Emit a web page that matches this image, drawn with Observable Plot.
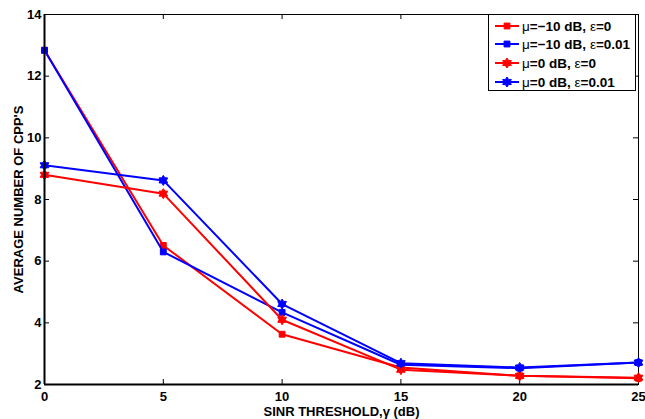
<!DOCTYPE html>
<html>
<head>
<meta charset="utf-8">
<script src="https://cdn.jsdelivr.net/npm/d3@7"></script>
<script src="https://cdn.jsdelivr.net/npm/@observablehq/plot@0.6"></script>
<style>
  html, body { margin: 0; padding: 0; background: #fff; }
  #wrap { position: relative; width: 645px; height: 419px; }
  #legend { position: absolute; left: 488px; top: 14px; width: 148px; height: 77px;
    border: 1px solid #000; background: #fff; box-sizing: border-box;
    font-family: "Liberation Sans", Arial, sans-serif; font-weight: bold; font-size: 13.5px; }
  .row { position: absolute; left: 0; height: 18px; display: flex; align-items: center; white-space: nowrap; }
  .row svg { margin-left: 5px; margin-right: 2px; }
</style>
</head>
<body>
<div id="wrap"><div id="chart"></div><div id="legend"></div></div>
<script>
const xValues = [0, 5, 10, 15, 20, 25];
const seriesNames = ["μ=−10 dB, ε=0", "μ=−10 dB, ε=0.01", "μ=0 dB, ε=0", "μ=0 dB, ε=0.01"];
const seriesColors = ["#ff0000", "#0000ff", "#ff0000", "#0000ff"];
const seriesMarkers = ["square", "square", "hexagram", "hexagram"];
const valsA = [12.84, 6.51, 3.63, 2.55, 2.28, 2.20];
const valsB = [12.84, 6.30, 4.34, 2.64, 2.53, 2.71];
const valsC = [8.80, 8.19, 4.10, 2.48, 2.28, 2.22];
const valsD = [9.11, 8.62, 4.61, 2.69, 2.55, 2.71];
const xTicks = [0, 5, 10, 15, 20, 25];
const yTicks = [2, 4, 6, 8, 10, 12, 14];
const xLabel = "SINR THRESHOLD,γ (dB)";
const yLabel = "AVERAGE NUMBER OF CPP'S";

const allVals = [valsA, valsB, valsC, valsD];
const data = [];
allVals.forEach((vals, s) => vals.forEach((v, i) => data.push({x: xValues[i], y: v, s})));

const hexagram = {
  draw(context, size) {
    const r = Math.sqrt(size / Math.PI) * 1.25;
    const ri = r / Math.sqrt(3) * 1.05;
    for (let k = 0; k < 12; k++) {
      const a = -Math.PI / 2 + k * Math.PI / 6;
      const rr = k % 2 === 0 ? r : ri;
      const px = rr * Math.cos(a), py = rr * Math.sin(a);
      if (k === 0) context.moveTo(px, py); else context.lineTo(px, py);
    }
    context.closePath();
  }
};
const symFor = m => m === "square" ? d3.symbolSquare : hexagram;

const W = 645, H = 419;
const mL = 44, mR = 7, mT = 14, mB = 35;
const innerH = H - mT - mB, innerW = W - mL - mR;
const font = "Liberation Sans, Arial, sans-serif";

const marks = [];
marks.push(Plot.frame({stroke: "#000", strokeWidth: 1}));
// inward ticks
marks.push(Plot.tickX(xTicks, {x: d => d, insetTop: innerH - 5, stroke: "#000", strokeWidth: 1}));
marks.push(Plot.tickX(xTicks, {x: d => d, insetBottom: innerH - 5, stroke: "#000", strokeWidth: 1}));
marks.push(Plot.tickY(yTicks, {y: d => d, insetRight: innerW - 5, stroke: "#000", strokeWidth: 1}));
marks.push(Plot.tickY(yTicks, {y: d => d, insetLeft: innerW - 5, stroke: "#000", strokeWidth: 1}));
for (let s = 0; s < 4; s++) {
  const d = data.filter(p => p.s === s);
  marks.push(Plot.line(d, {x: "x", y: "y", stroke: seriesColors[s], strokeWidth: 2}));
  marks.push(Plot.dot(d, {x: "x", y: "y", fill: seriesColors[s], stroke: seriesColors[s], strokeWidth: 1,
    symbol: symFor(seriesMarkers[s]), r: seriesMarkers[s] === "square" ? 3.3 : 4}));
}
marks.push(Plot.ruleX([0], {stroke: "#000", strokeWidth: 2}));
marks.push(Plot.ruleY([2], {stroke: "#000", strokeWidth: 2}));
marks.push(Plot.axisX({ticks: xTicks, tickSize: 0, tickPadding: 7, fontSize: 13, fontWeight: "bold", fontFamily: font,
  label: xLabel, labelAnchor: "center", labelOffset: 31, labelArrow: "none"}));
marks.push(Plot.axisY({ticks: yTicks, tickSize: 0, tickPadding: 3, fontSize: 13, fontWeight: "bold", fontFamily: font,
  label: yLabel, labelAnchor: "center", labelOffset: 31, labelArrow: "none"}));

const chart = Plot.plot({
  width: W, height: H,
  marginLeft: mL, marginRight: mR, marginTop: mT, marginBottom: mB,
  style: {fontFamily: font, fontSize: "13px", fontWeight: "bold", background: "#fff", color: "#000"},
  x: {domain: [0, 25]},
  y: {domain: [2, 14]},
  marks
});
document.getElementById("chart").appendChild(chart);

// legend
const legend = document.getElementById("legend");
const rowTops = [2, 20, 39, 58];
seriesNames.forEach((name, s) => {
  const row = document.createElement("div");
  row.className = "row";
  row.style.top = rowTops[s] + "px";
  const svg = d3.create("svg").attr("width", 26).attr("height", 14);
  svg.append("line").attr("x1", 1).attr("x2", 25).attr("y1", 7).attr("y2", 7)
    .attr("stroke", seriesColors[s]).attr("stroke-width", 2);
  const isSq = seriesMarkers[s] === "square";
  const rr = isSq ? 3.3 : 4;
  svg.append("path").attr("transform", "translate(13,7)")
    .attr("d", d3.symbol(symFor(seriesMarkers[s]), Math.PI * rr * rr)())
    .attr("fill", seriesColors[s]).attr("stroke", seriesColors[s]);
  row.appendChild(svg.node());
  const t = document.createElement("span");
  // Greek letters in regular weight, as in the reference
  for (const ch of name) {
    if (ch === "μ" || ch === "ε") {
      const g = document.createElement("span");
      g.style.fontWeight = "normal";
      g.textContent = ch;
      t.appendChild(g);
    } else {
      t.appendChild(document.createTextNode(ch));
    }
  }
  row.appendChild(t);
  legend.appendChild(row);
});
</script>
</body>
</html>
